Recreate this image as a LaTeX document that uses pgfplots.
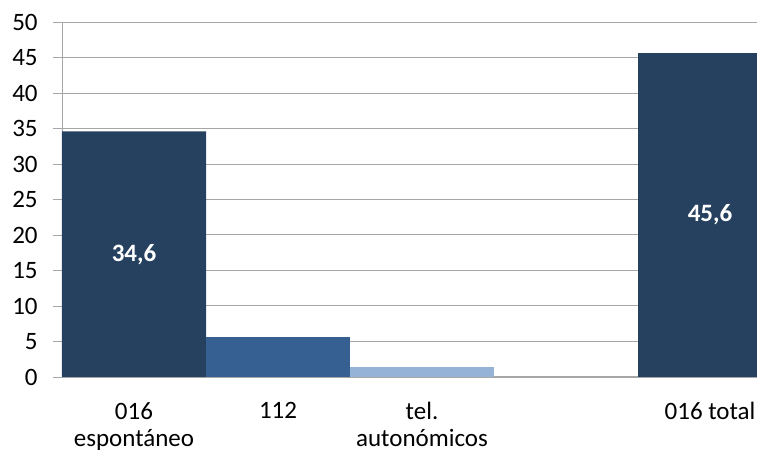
\documentclass[border=0pt]{standalone}
\usepackage{pgfplots}
\pgfplotsset{compat=1.18}
\usepackage{fontspec}
\setmainfont{Carlito}
\definecolor{navy}{HTML}{26405F}
\definecolor{midblue}{HTML}{366092}
\definecolor{lightblue}{HTML}{95B3D7}
\definecolor{gridgray}{HTML}{A6A6A6}
\begin{document}
\begin{tikzpicture}
\fontsize{12}{14}\selectfont
\begin{axis}[
  scale only axis,
  width=347.5pt, height=177.5pt,
  xmin=0, xmax=4.826, ymin=0, ymax=50,
  axis x line=bottom, axis y line=left,
  axis line style={gridgray, -},
  ytick={0,5,...,50},
  ymajorgrids, grid style={gridgray, line width=0.5pt},
  tick align=outside,
  ytick style={gridgray},
  major tick length=4.5pt,
  xtick={0.5,1.5,2.5,4.5},
  xticklabels={{016\\espontáneo},{112},{tel.\\autonómicos},{016 total}},
  xticklabel style={align=center, anchor=north, yshift=-4pt, font=\fontsize{12.5}{13.5}\selectfont},
  yticklabel style={xshift=-3.5pt, font=\fontsize{12.5}{15}\selectfont},
  x tick style={draw=none},
  minor xtick={0,1,2,3,4},
  minor x tick style={gridgray},
  minor tick length=4.5pt,
  /pgf/number format/assume math mode=true,
  ybar, bar width=1, bar shift=0pt,
  clip=true,
]
\addplot[fill=navy, draw=none] coordinates {(0.5,34.6) (4.5,45.6)};
\addplot[fill=midblue, draw=none] coordinates {(1.5,5.7)};
\addplot[fill=lightblue, draw=none] coordinates {(2.5,1.4)};
\node[text=white, font=\bfseries\fontsize{12.5}{14}\selectfont] at (axis cs:0.5,17.3) {34,6};
\node[text=white, font=\bfseries\fontsize{12.5}{14}\selectfont] at (axis cs:4.5,22.8) {45,6};
\end{axis}
\pgfresetboundingbox
\useasboundingbox (-31pt,-36.5pt) rectangle (347.5pt,188.5pt);
\end{tikzpicture}
\end{document}
